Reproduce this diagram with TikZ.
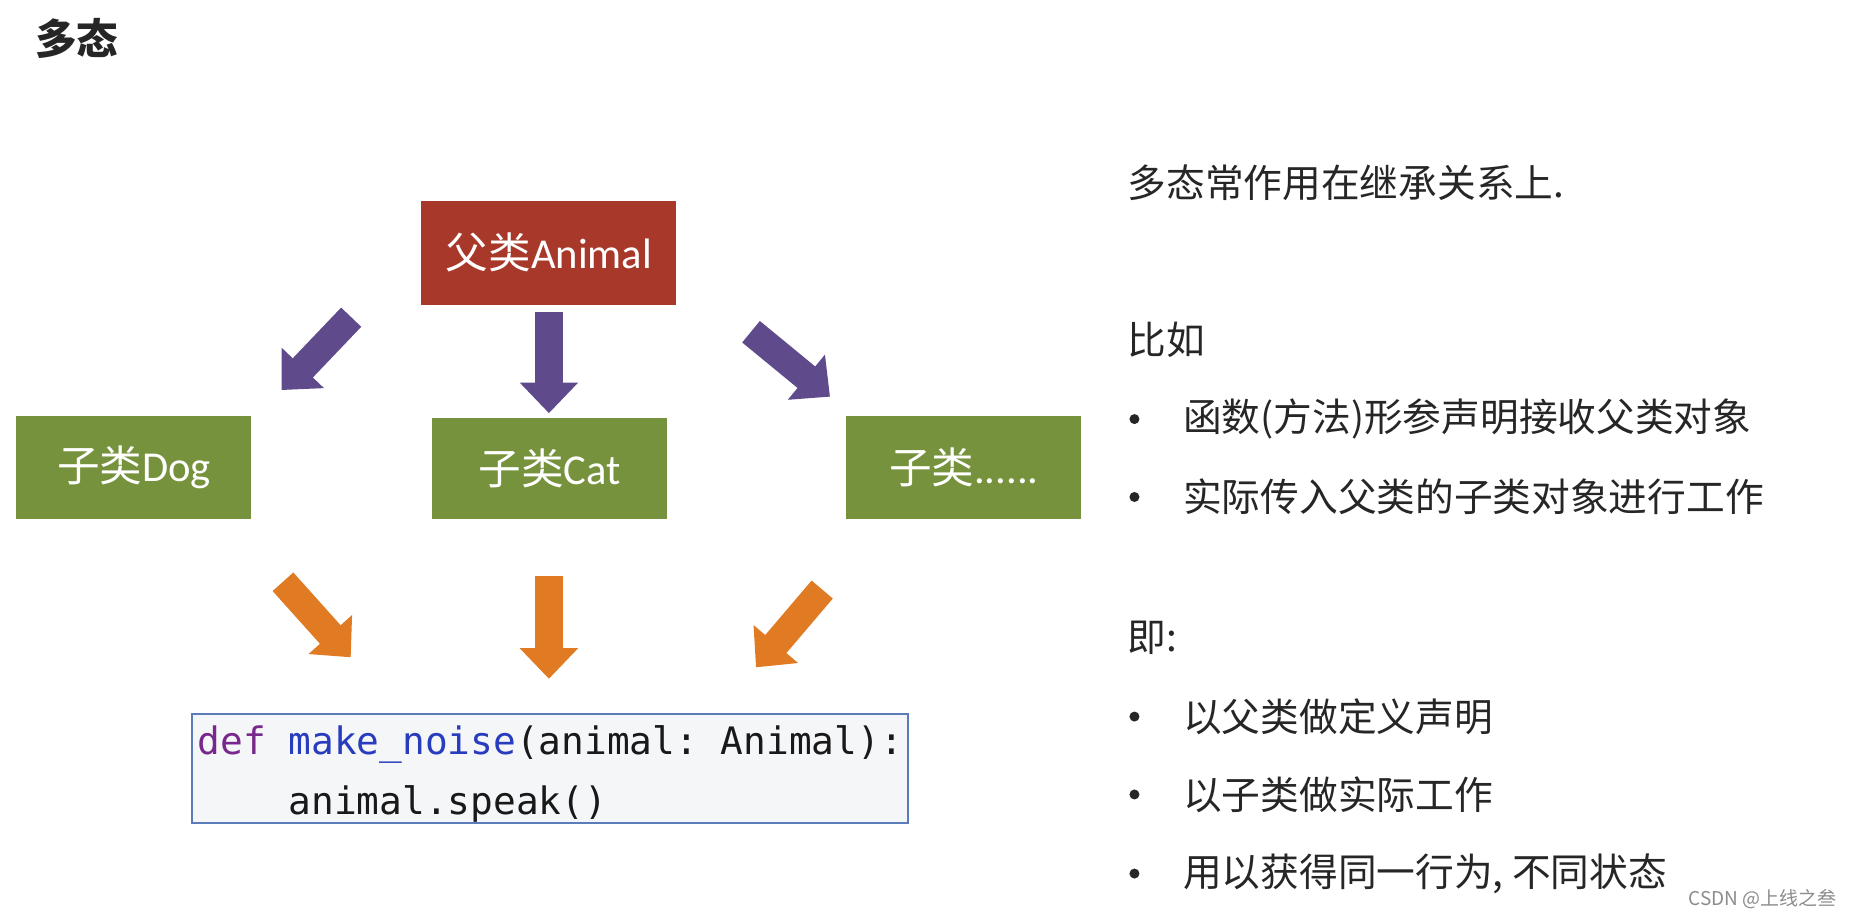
\documentclass[tikz,border=0pt]{standalone}
\usepackage{fontspec}
\setmainfont{Carlito}
\setmonofont{DejaVu Sans Mono}
\newfontfamily\cjk{Noto Sans CJK SC}
\usetikzlibrary{arrows.meta}
\definecolor{redbox}{RGB}{168,57,42}
\definecolor{greenbox}{RGB}{118,146,60}
\definecolor{purplearr}{RGB}{95,75,139}
\definecolor{orangearr}{RGB}{224,123,36}
\definecolor{codeborder}{RGB}{90,125,185}
\definecolor{codefill}{RGB}{245,246,248}
\definecolor{kwpurple}{RGB}{120,40,140}
\definecolor{fnblue}{RGB}{40,60,190}
\definecolor{txtdark}{RGB}{38,38,38}
\tikzset{
  classbox/.style={draw=none, minimum width=117.5pt, minimum height=51.9pt, inner sep=0pt,
    text=white, font=\fontsize{21.3pt}{25pt}\selectfont},
  parentbox/.style={classbox, fill=redbox, minimum width=127.5pt},
  childbox/.style={classbox, fill=greenbox},
  blockarrow/.style={line width=13.9pt, line cap=butt,
    -{Triangle[length=15.3pt, width=28.3pt]}},
  parr/.style={blockarrow, draw=purplearr, fill=purplearr},
  oarr/.style={blockarrow, draw=orangearr, fill=orangearr},
  codebox/.style={draw=codeborder, line width=1pt, fill=codefill,
    minimum width=357.7pt, minimum height=54.3pt, inner sep=0pt},
  codeline/.style={anchor=base west, inner sep=0pt,
    font=\ttfamily\fontsize{18.9pt}{22pt}\selectfont, text=black!90},
  sidetext/.style={anchor=west, inner sep=0pt, text=txtdark,
    font=\cjk\fontsize{19.35pt}{23pt}\selectfont},
  bulletdot/.style={circle, fill=txtdark, inner sep=0pt, minimum size=5pt},
}
\begin{document}
\begin{tikzpicture}[x=0.59025pt, y=-0.59025pt]
\useasboundingbox (0,0) rectangle (1568,779.3);
\fill[white] (0,0) rectangle (1568,779.3);

% title
\node[inner sep=0pt, text=txtdark, font=\cjk\bfseries\fontsize{20.8pt}{24pt}\selectfont] (title) at (65,33) {多态};

% boxes
\node[parentbox] (animal) at (465,214) {{\cjk 父类}Animal};
\node[childbox] (dog) at (113.5,396) {{\cjk 子类}Dog};
\node[childbox, minimum height=50.8pt] (cat) at (465.5,397) {{\cjk 子类}Cat};
\node[childbox] (more) at (816.5,396) {{\cjk 子类}......};

% purple arrows
\coordinate (p1s) at (297.5,268.7); \coordinate (p1e) at (238.6,330.4);
\coordinate (p2s) at (465,264);     \coordinate (p2e) at (465,350);
\coordinate (p3s) at (636.2,281);   \coordinate (p3e) at (703.1,336);
\draw[parr] (p1s) -- (p1e);
\draw[parr] (p2s) -- (p2e);
\draw[parr] (p3s) -- (p3e);

% orange arrows
\coordinate (o1s) at (239.7,492.8); \coordinate (o1e) at (297.1,556.8);
\coordinate (o2s) at (465,488);     \coordinate (o2e) at (465,575);
\coordinate (o3s) at (696.5,499.4); \coordinate (o3e) at (640.4,565.3);
\draw[oarr] (o1s) -- (o1e);
\draw[oarr] (o2s) -- (o2e);
\draw[oarr] (o3s) -- (o3e);

% code box
\node[codebox] (code) at (466,651) {};
\node[codeline] (code1) at (167,639) {{\color{kwpurple}def} {\color{fnblue}make\_noise}(animal: Animal):};
\node[codeline] (code2) at (167,690) {\phantom{xxxx}animal.speak()};

% right side text
\node[sidetext] (t1) at (955,155) {多态常作用在继承关系上.};
\node[sidetext] (t2) at (955,288) {比如};
\node[bulletdot] (b1) at (961,355) {};
\node[sidetext] (t3) at (1002,355) {函数(方法)形参声明接收父类对象};
\node[bulletdot] (b2) at (961,421) {};
\node[sidetext] (t4) at (1002,421) {实际传入父类的子类对象进行工作};
\node[sidetext] (t5) at (955,540) {即:};
\node[bulletdot] (b3) at (961,607) {};
\node[sidetext] (t6) at (1002,607) {以父类做定义声明};
\node[bulletdot] (b4) at (961,673) {};
\node[sidetext] (t7) at (1002,673) {以子类做实际工作};
\node[bulletdot] (b5) at (961,740) {};
\node[sidetext] (t8) at (1002,740) {用以获得同一行为, 不同状态};

% watermark
\node[anchor=east, inner sep=0pt, text=black!45, font=\cjk\fontsize{9.5pt}{11pt}\selectfont] (wm) at (1556,762) {CSDN @上线之叁};
\end{tikzpicture}
\end{document}
